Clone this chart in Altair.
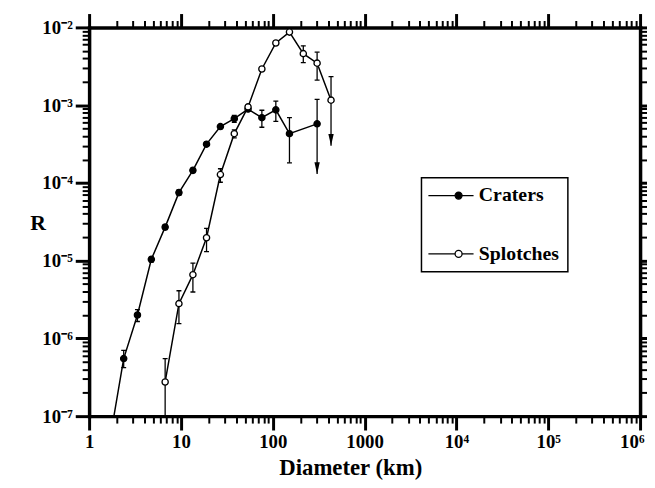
import altair as alt
import pandas as pd

# ---------------- data ----------------
crater_D = [1.68, 2.38, 3.36, 4.76, 6.73, 9.51, 13.5, 19.0, 26.9, 38.1, 53.8, 76.1, 108, 152, 304]
crater_R = [4.9e-8, 5.5e-7, 2.0e-6, 1.04e-5, 2.7e-5, 7.5e-5, 1.45e-4, 3.15e-4, 5.3e-4,
            6.7e-4, 8.9e-4, 6.9e-4, 8.7e-4, 4.3e-4, 5.75e-4]
crater_hi = [None, 7.0e-7, 2.35e-6, 1.12e-5, 2.9e-5, 8.1e-5, 1.55e-4, 3.35e-4, 5.6e-4,
             7.4e-4, 9.5e-4, 8.6e-4, 1.13e-3, 6.9e-4, 1.19e-3]
crater_lo = [None, 4.2e-7, 1.65e-6, 0.96e-5, 2.5e-5, 6.9e-5, 1.36e-4, 2.95e-4, 5.0e-4,
             6.0e-4, 8.3e-4, 5.2e-4, 6.2e-4, 1.81e-4, 1.3e-4]
crater_arrow = [False] * 14 + [True]

splotch_D = [6.73, 9.51, 13.5, 19.0, 26.9, 38.1, 53.8, 76.1, 108, 152, 215, 304, 431]
splotch_R = [2.75e-7, 2.8e-6, 6.6e-6, 1.97e-5, 1.28e-4, 4.3e-4, 9.5e-4, 2.92e-3, 6.3e-3,
             8.7e-3, 4.6e-3, 3.47e-3, 1.16e-3]
splotch_hi = [5.5e-7, 4.1e-6, 9.3e-6, 2.6e-5, 1.52e-4, 4.8e-4, 1.0e-3, 3.05e-3, 6.5e-3,
              8.9e-3, 5.8e-3, 4.8e-3, 2.33e-3]
splotch_lo = [1e-8, 1.55e-6, 3.95e-6, 1.31e-5, 1.02e-4, 3.8e-4, 0.9e-3, 2.8e-3, 6.1e-3,
              8.5e-3, 3.52e-3, 2.1e-3, 3.0e-4]
splotch_arrow = [False] * 12 + [True]

series_names = ["Craters", "Splotches"]

x_ticks = [float(f"{m}e{k}") for k in range(0, 6) for m in range(1, 10)] + [1e6]
y_ticks = [float(f"{m}e{k}") for k in range(-7, -2) for m in range(1, 10)] + [1e-2]

# ---------------- tables ----------------
rows = []
for name, D, R, hi, lo, ar in [
    ("Craters", crater_D, crater_R, crater_hi, crater_lo, crater_arrow),
    ("Splotches", splotch_D, splotch_R, splotch_hi, splotch_lo, splotch_arrow),
]:
    for i in range(len(D)):
        rows.append(dict(series=name, order=i, D=D[i], R=R[i], hi=hi[i], lo=lo[i], arrow=ar[i]))
df = pd.DataFrame(rows)
err = df.dropna(subset=["hi"])
is_arrow = err["arrow"].astype(bool)
caps = pd.concat([
    pd.DataFrame({"D": err["D"], "R": err["hi"]}),
    pd.DataFrame({"D": err.loc[~is_arrow, "D"], "R": err.loc[~is_arrow, "lo"]}),
])
arrows = pd.DataFrame({"D": err.loc[is_arrow, "D"], "R": err.loc[is_arrow, "lo"]})

# ---------------- axes ----------------
FONT = "Liberation Serif"
major = "abs(log(datum.value)/LN10 - round(log(datum.value)/LN10)) < 0.001"
sup = "['⁰','¹','²','³','⁴','⁵','⁶','⁷','⁸','⁹']"
x_label = (f"{major} ? (datum.value < 5000 ? format(datum.value, 'd') : "
           f"'10' + {sup}[round(log(datum.value)/LN10)]) : ''")
y_label = f"{major} ? '10' + '⁻' + {sup}[-round(log(datum.value)/LN10)] : ''"
tick_size = {"condition": {"test": major, "value": 14}, "value": 7}
tick_width = {"condition": {"test": major, "value": 3}, "value": 2}

common = dict(grid=False, tickColor="black", domainColor="black", domainWidth=3.5,
              domainCap="square", tickSize=tick_size, tickWidth=tick_width,
              labelFont=FONT, labelFontWeight="bold", labelFontSize=19, labelColor="black",
              labelOverlap=False, labelFlush=False, titleFont=FONT, titleFontWeight="bold",
              titleColor="black")

x_bottom = alt.Axis(orient="bottom", values=x_ticks, labelExpr=x_label, labelPadding=3,
                    labelAlign={"condition": {"test": "datum.value > 5e5", "value": "right"},
                                "value": "center"},
                    labelOffset={"condition": {"test": "datum.value > 5e5", "value": 4},
                                 "value": 0},
                    title="Diameter (km)", titleFontSize=23, titlePadding=5, titleX=264,
                    **common)
y_left = alt.Axis(orient="left", values=y_ticks, labelExpr=y_label, labelPadding=3,
                  title="R", titleFontSize=22, titleAngle=0, titleX=-52, titleY=197,
                  titleAlign="center", titleBaseline="middle", **common)
x_top = alt.Axis(orient="top", values=x_ticks, labels=False, title=None, **common)
y_right = alt.Axis(orient="right", values=y_ticks, labels=False, title=None, **common)

xs = alt.Scale(type="log", domain=[1, 1e6], nice=False)
ys = alt.Scale(type="log", domain=[1e-7, 1e-2], nice=False)

legend_path = ("M-2,0L2.91,0M4.19,0L6.3,0"
               "M3.55,-0.64A0.64,0.64,0,1,1,3.55,0.64A0.64,0.64,0,1,1,3.55,-0.64Z")
arrow_path = "M-0.45,-2L0.45,-2L0,0Z"
cap_path = "M-1,0L1,0"

lines = alt.Chart(df).mark_line(color="black", strokeWidth=1.5, clip=True).encode(
    x=alt.X("D:Q", scale=xs, axis=x_bottom),
    y=alt.Y("R:Q", scale=ys, axis=y_left),
    detail="series:N",
    order="order:Q",
)

rules = alt.Chart(err).mark_rule(color="black", strokeWidth=1.3, clip=True).encode(
    x=alt.X("D:Q", scale=xs, axis=None),
    y=alt.Y("lo:Q", scale=ys, axis=None),
    y2="hi:Q",
)

cap_marks = alt.Chart(caps).mark_point(shape=cap_path, size=25, stroke="black",
                                       strokeWidth=1.3, filled=False, opacity=1,
                                       clip=True).encode(
    x=alt.X("D:Q", scale=xs, axis=None),
    y=alt.Y("R:Q", scale=ys, axis=None),
)

arrow_marks = alt.Chart(arrows).mark_point(shape=arrow_path, size=144, filled=True,
                                           fill="black", opacity=1, clip=True).encode(
    x=alt.X("D:Q", scale=xs, axis=None),
    y=alt.Y("R:Q", scale=ys, axis=None),
)

points = alt.Chart(df).mark_point(filled=True, size=40, stroke="black", strokeWidth=1.3,
                                  opacity=1, clip=True).encode(
    x=alt.X("D:Q", scale=xs, axis=None),
    y=alt.Y("R:Q", scale=ys, axis=None),
    fill=alt.Fill("series:N",
                  scale=alt.Scale(domain=series_names, range=["black", "white"]),
                  legend=alt.Legend(title=None, orient="none", legendX=336, legendY=152,
                                    symbolType=legend_path, symbolSize=121,
                                    symbolStrokeColor="black", symbolStrokeWidth=1.3,
                                    labelFont=FONT, labelFontWeight="bold",
                                    labelFontSize=20, labelColor="black",
                                    labelOffset=30, rowPadding=39, padding=8,
                                    strokeColor="black", fillColor="white")),
)

frame = alt.Chart(df).mark_point(opacity=0).encode(
    x=alt.X("D:Q", scale=xs, axis=x_top),
    y=alt.Y("R:Q", scale=ys, axis=y_right),
)

chart = alt.layer(lines, rules, cap_marks, arrow_marks, points, frame).resolve_axis(
    x="independent", y="independent"
).properties(
    width=557, height=393,
    padding={"left": 82, "top": 17, "right": 7, "bottom": 68},
    autosize=alt.AutoSizeParams(type="none"),
    background="white",
).configure_view(stroke=None).configure_legend(strokeWidth=1.5)

chart.save("out.html", embed_options={"renderer": "svg", "actions": False})
